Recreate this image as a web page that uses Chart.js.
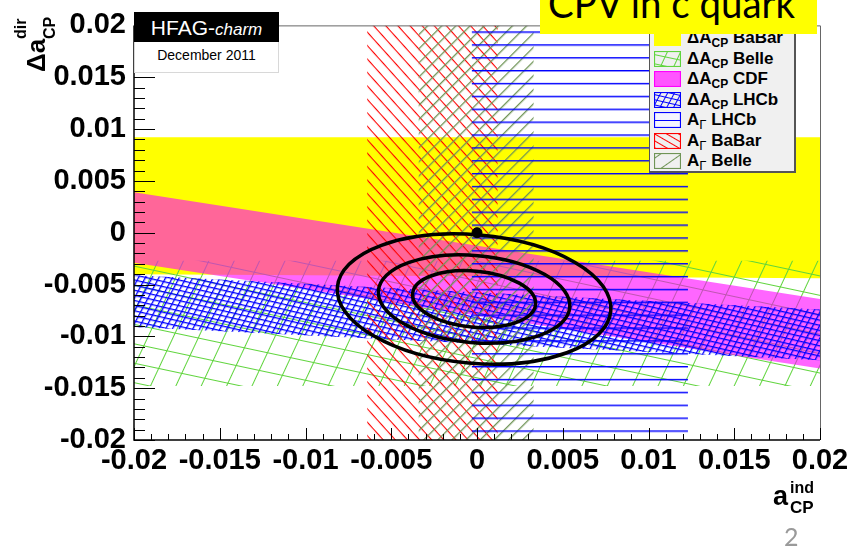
<!DOCTYPE html>
<html>
<head>
<meta charset="utf-8">
<script src="https://cdn.jsdelivr.net/npm/chart.js@4.4.0/dist/chart.umd.min.js"></script>
<style>
body{margin:0;background:#fff;font-family:"Liberation Sans",Arial,sans-serif;}
#wrap{position:relative;width:861px;height:549px;overflow:hidden;}
#c{position:absolute;left:0;top:0;}
.abs{position:absolute;white-space:nowrap;}
#hfag{left:134px;top:12px;width:145px;height:61px;}
#hfag .top{background:#000;color:#fff;height:30px;line-height:31px;text-align:center;font-size:21px;}
#hfag .top i{font-size:17px;}
#hfag .bot{background:#fff;border:1px solid #d8d8d8;border-top:none;height:31px;line-height:26px;text-align:center;font-size:14px;box-sizing:border-box;}
#legend{left:649px;top:22px;width:147px;height:151px;background:#f0f0f0;border:1px solid #555;border-right-width:2px;border-bottom-width:2px;box-sizing:border-box;}
#legend .row{position:absolute;left:4px;height:20px;font-weight:bold;font-size:17px;line-height:20px;}
#legend canvas{position:absolute;left:0;top:2px;}
#legend .lt{position:absolute;left:33px;top:0;}
#legend sub{font-size:12px;vertical-align:-4px;line-height:0;}
#legend sub.g{font-weight:normal;font-size:13px;}
#title{left:540px;top:0;width:277px;height:34px;background:#ffff00;overflow:hidden;}
#title span{position:absolute;left:8px;top:-17px;font-family:Lato,"Open Sans",sans-serif;font-size:40px;line-height:40px;color:#000;transform-origin:0 0;}
#ytitle{left:15px;top:72px;width:62px;height:45px;transform-origin:0 0;transform:rotate(-90deg);font-weight:bold;}
#ytitle span,#xtitle span{position:absolute;line-height:1;}
#xtitle{left:773px;top:480px;width:50px;height:45px;font-weight:bold;}
#page{left:784px;top:524px;font-family:Lato,sans-serif;font-size:25px;line-height:25px;color:#9a9a9a;}
</style>
</head>
<body>
<div id="wrap">
<canvas id="c" width="861" height="549"></canvas>
<div id="hfag" class="abs"><div class="top">HFAG-<i>charm</i></div><div class="bot">December 2011</div></div>
<div id="legend" class="abs"></div>
<div id="title" class="abs"><span id="titletext">CPV in c quark</span></div>
<div id="ytitle" class="abs">
  <span style="left:0;top:8px;font-size:26px">&Delta;a</span>
  <span style="left:33px;top:-2px;font-size:16px">dir</span>
  <span style="left:33px;top:27px;font-size:16px">CP</span>
</div>
<div id="xtitle" class="abs">
  <span style="left:0;top:3px;font-size:27px">a</span>
  <span style="left:17px;top:0;font-size:16px">ind</span>
  <span style="left:17px;top:19px;font-size:17px">CP</span>
</div>
<div id="page" class="abs">2</div>
</div>
<script>
// axis ranges
const aRange = [-0.02, 0.02];
const dRange = [-0.02, 0.02];
const xTicks = [-0.02, -0.015, -0.01, -0.005, 0, 0.005, 0.01, 0.015, 0.02];
const yTicks = [-0.02, -0.015, -0.01, -0.005, 0, 0.005, 0.01, 0.015, 0.02];

// Delta A_CP bands: Delta a_dir edges at a_ind = -0.02 and +0.02
const babarDAcpHi = [0.0092, 0.0092];
const babarDAcpLo = [-0.0040, -0.0044];
const belleDAcpHi = [-0.0027, -0.0027];
const belleDAcpLo = [-0.0148, -0.0148];
const cdfDAcpHi = [0.0039, -0.0064];
const cdfDAcpLo = [-0.0029, -0.0131];
const lhcbDAcpHi = [-0.0041, -0.0074];
const lhcbDAcpLo = [-0.0091, -0.0123];

// A_Gamma bands: a_ind ranges
const lhcbAGamma = [-0.0003, 0.0123];
const babarAGamma = [-0.0064, 0.0012];
const belleAGamma = [-0.0034, 0.0033];

// combined fit contours
const contourCenter = [-0.00017, -0.0064];
const contourSemiA = [0.0036, 0.0056, 0.0080];
const contourSemiD = [0.0027, 0.0042, 0.0062];
const contourTilt = 5;

const noCpvPoint = [0, 0];

const YELLOW = "#ffff00", GREEN = "#5fd43c", BLUE = "#0000ff",
      RED = "#ff0000", OLIVE = "#6f9456", PINK = "rgba(255,0,255,0.6)";

function stripes(ctx, color, gap, lw, angle, dx, dy) {
  var t = document.createElement("canvas");
  t.width = 16; t.height = gap;
  var g = t.getContext("2d");
  g.fillStyle = color;
  g.fillRect(0, 0, 16, lw);
  var p = ctx.createPattern(t, "repeat");
  p.setTransform(new DOMMatrix().translate(dx || 0, dy || 0).rotate(angle));
  return p;
}

function hlines(ctx) {
  var t = document.createElement("canvas");
  t.width = 16; t.height = 13;
  var g = t.getContext("2d");
  g.fillStyle = BLUE;
  g.fillRect(0, 0, 16, 1);
  g.fillStyle = "rgba(0,0,255,0.45)";
  g.fillRect(0, 1, 16, 1);
  var p = ctx.createPattern(t, "repeat");
  p.setTransform(new DOMMatrix().translate(0, 18.5).scale(1, 0.99));
  return p;
}

function hband(hi, lo) {
  return [
    {x: aRange[0], y: hi[0]}, {x: aRange[1], y: hi[1]},
    {x: aRange[1], y: lo[1]}, {x: aRange[0], y: lo[0]}, {x: aRange[0], y: hi[0]}
  ];
}

function vband(r) {
  return [
    {x: r[0], y: dRange[0]}, {x: r[1], y: dRange[0]},
    {x: r[1], y: dRange[1]}, {x: r[0], y: dRange[1]}, {x: r[0], y: dRange[0]}
  ];
}

function area(label, data, bg, order) {
  return {label: label, data: data, backgroundColor: bg, borderColor: "rgba(0,0,0,0)",
          borderWidth: 0, pointRadius: 0, fill: "shape", tension: 0, order: order};
}

const cv = document.getElementById("c");
const ctx = cv.getContext("2d");

const datasets = [
  area("ΔA_CP BaBar", hband(babarDAcpHi, babarDAcpLo), YELLOW, 20),
  area("ΔA_CP Belle", hband(belleDAcpHi, belleDAcpLo), stripes(ctx, GREEN, 23, 1, -65, 0, 0), 19),
  area("ΔA_CP Belle b", hband(belleDAcpHi, belleDAcpLo), stripes(ctx, GREEN, 19, 1, 12, 0, 4), 18),
  area("ΔA_CP CDF", hband(cdfDAcpHi, cdfDAcpLo), PINK, 17),
  area("ΔA_CP LHCb", hband(lhcbDAcpHi, lhcbDAcpLo), stripes(ctx, BLUE, 6, 1.3, -62, 0, 0), 16),
  area("ΔA_CP LHCb b", hband(lhcbDAcpHi, lhcbDAcpLo), stripes(ctx, BLUE, 5, 1.3, 13, 0, 2), 15),
  area("A_Γ BaBar", vband(babarAGamma), stripes(ctx, RED, 9, 1.1, 48, 0, 0), 14),
  area("A_Γ Belle", vband(belleAGamma), stripes(ctx, OLIVE, 10, 1.3, -45, 0, 0), 13),
  area("A_Γ LHCb", vband(lhcbAGamma), hlines(ctx), 12),
  {label: "no CPV", data: [{x: noCpvPoint[0], y: noCpvPoint[1]}], showLine: false,
   pointRadius: 5, pointBackgroundColor: "#000", pointBorderColor: "#000", order: 0}
];

const contours = {
  id: "contours",
  afterDatasetsDraw(chart) {
    var c = chart.ctx, x = chart.scales.x, y = chart.scales.y, a = chart.chartArea;
    c.save();
    c.beginPath();
    c.rect(a.left, a.top, a.right - a.left, a.bottom - a.top);
    c.clip();
    var px = x.getPixelForValue(contourCenter[0]);
    var py = y.getPixelForValue(contourCenter[1]);
    c.strokeStyle = "#000";
    c.lineWidth = 3.5;
    for (var i = 0; i < contourSemiA.length; i++) {
      var rx = Math.abs(x.getPixelForValue(contourCenter[0] + contourSemiA[i]) - px);
      var ry = Math.abs(y.getPixelForValue(contourCenter[1] + contourSemiD[i]) - py);
      c.beginPath();
      c.ellipse(px, py, rx, ry, contourTilt * Math.PI / 180, 0, 2 * Math.PI);
      c.stroke();
    }
    c.restore();
  }
};

const frame = {
  id: "frame",
  afterDraw(chart) {
    var c = chart.ctx, x = chart.scales.x, y = chart.scales.y, a = chart.chartArea;
    c.save();
    c.strokeStyle = "#666";
    c.lineWidth = 1;
    c.beginPath();
    c.moveTo(a.left, a.top + 0.5); c.lineTo(a.right + 0.5, a.top + 0.5); c.lineTo(a.right + 0.5, a.bottom);
    c.stroke();
    c.strokeStyle = "#000";
    c.lineWidth = 1.5;
    c.beginPath();
    c.moveTo(a.left, a.top); c.lineTo(a.left, a.bottom); c.lineTo(a.right, a.bottom);
    c.stroke();
    c.lineWidth = 1;
    c.beginPath();
    for (var k = -20; k <= 20; k++) {
      var major = k % 5 === 0;
      var xp = Math.round(x.getPixelForValue(k / 1000)) + 0.5;
      c.moveTo(xp, a.bottom); c.lineTo(xp, a.bottom - (major ? 12 : 6));
      var yp = Math.round(y.getPixelForValue(k / 1000)) + 0.5;
      c.moveTo(a.left, yp); c.lineTo(a.left + (major ? 21 : 11), yp);
    }
    c.stroke();
    c.restore();
  }
};

const tickFont = {family: '"Liberation Sans", Arial, sans-serif', size: 29, weight: "bold"};

new Chart(ctx, {
  type: "line",
  data: {datasets: datasets},
  options: {
    responsive: false,
    animation: false,
    events: [],
    layout: {padding: {top: 12, right: 41, left: 0, bottom: 0}},
    plugins: {legend: {display: false}, tooltip: {enabled: false}},
    scales: {
      x: {
        type: "linear", min: aRange[0], max: aRange[1],
        grid: {display: false, drawTicks: false}, border: {display: false},
        afterBuildTicks: (s) => { s.ticks = xTicks.map((v) => ({value: v})); },
        afterFit: (s) => { s.height = 109; },
        ticks: {font: tickFont, color: "#000", padding: 4, autoSkip: false, maxRotation: 0,
                callback: (v) => String(v)}
      },
      y: {
        type: "linear", min: dRange[0], max: dRange[1],
        grid: {display: false, drawTicks: false}, border: {display: false},
        afterBuildTicks: (s) => { s.ticks = yTicks.map((v) => ({value: v})); },
        afterFit: (s) => { s.width = 134; },
        ticks: {font: tickFont, color: "#000", padding: 8, callback: (v) => String(v)}
      }
    }
  },
  plugins: [contours, frame]
});

// legend
const legendRows = [
  {html: "ΔA<sub>CP</sub> BaBar", kind: "babar"},
  {html: "ΔA<sub>CP</sub> Belle", kind: "belle"},
  {html: "ΔA<sub>CP</sub> CDF", kind: "cdf"},
  {html: "ΔA<sub>CP</sub> LHCb", kind: "lhcb"},
  {html: "A<sub class='g'>Γ</sub> LHCb", kind: "glhcb"},
  {html: "A<sub class='g'>Γ</sub> BaBar", kind: "gbabar"},
  {html: "A<sub class='g'>Γ</sub> Belle", kind: "gbelle"}
];

function swatch(cnv, kind) {
  var g = cnv.getContext("2d"), w = cnv.width, h = cnv.height;
  var border = YELLOW;
  if (kind === "babar") { g.fillStyle = YELLOW; g.fillRect(0, 0, w, h); }
  if (kind === "belle") {
    g.fillStyle = stripes(g, GREEN, 12, 1, -65, 0, 0); g.fillRect(0, 0, w, h);
    g.fillStyle = stripes(g, GREEN, 9, 1, 12, 0, 3); g.fillRect(0, 0, w, h); border = GREEN;
  }
  if (kind === "cdf") { g.fillStyle = "#ff55ff"; g.fillRect(0, 0, w, h); border = "#ff00ff"; }
  if (kind === "lhcb") {
    g.fillStyle = stripes(g, BLUE, 6, 1, -62, 0, 0); g.fillRect(0, 0, w, h);
    g.fillStyle = stripes(g, BLUE, 5, 1, 13, 0, 2); g.fillRect(0, 0, w, h); border = BLUE;
  }
  if (kind === "glhcb") {
    g.fillStyle = "#f4f4ff"; g.fillRect(0, 0, w, h);
    g.fillStyle = BLUE; g.fillRect(1, Math.floor(h / 2), w - 2, 1); border = BLUE;
  }
  if (kind === "gbabar") { g.fillStyle = stripes(g, RED, 6, 1, 30, 0, 0); g.fillRect(0, 0, w, h); border = RED; }
  if (kind === "gbelle") { g.fillStyle = stripes(g, OLIVE, 12, 1, -35, 0, 5); g.fillRect(0, 0, w, h); border = OLIVE; }
  g.strokeStyle = border;
  g.lineWidth = 1.2;
  g.strokeRect(0.5, 0.5, w - 1, h - 1);
}

const leg = document.getElementById("legend");
legendRows.forEach(function (r, i) {
  var row = document.createElement("div");
  row.className = "row";
  row.style.top = (5 + i * 20.5) + "px";
  var cnv = document.createElement("canvas");
  cnv.width = 27; cnv.height = 16;
  row.appendChild(cnv);
  var t = document.createElement("span");
  t.className = "lt";
  t.innerHTML = r.html;
  row.appendChild(t);
  leg.appendChild(row);
  swatch(cnv, r.kind);
});

// fit the slide title to its width
const tt = document.getElementById("titletext");
tt.style.transform = "scaleX(" + (247 / tt.getBoundingClientRect().width) + ")";
</script>
</body>
</html>
